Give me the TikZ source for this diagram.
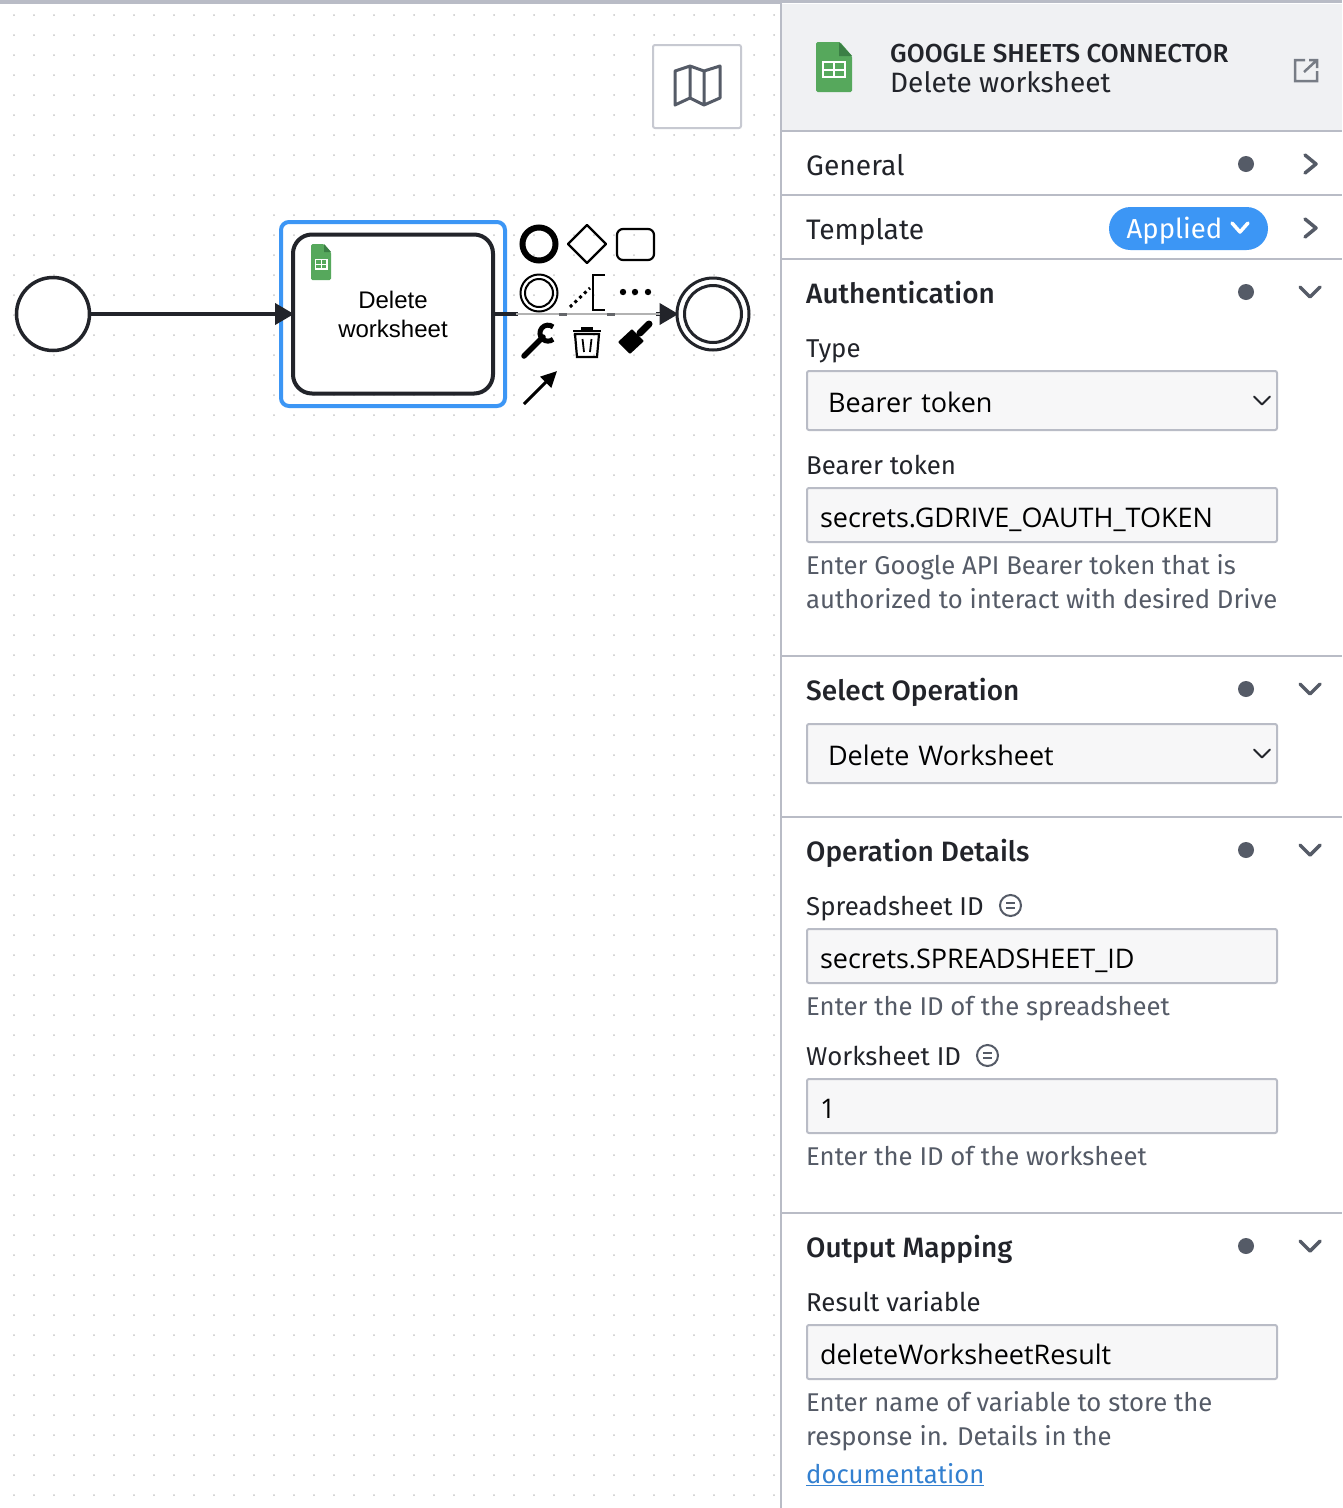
\documentclass[tikz,border=0pt]{standalone}
\usepackage{fontspec}
\setmainfont{Fira Sans}
\newfontfamily\diagfont{Liberation Sans}
\newfontfamily\fieldfont{Open Sans}
\newfontfamily\medfont{Fira Sans Medium}
\usetikzlibrary{arrows.meta, positioning, shapes.geometric}
\definecolor{inkc}{HTML}{22242A}
\definecolor{greyc}{HTML}{555B67}
\definecolor{rulec}{HTML}{B9BCC6}
\definecolor{bluec}{HTML}{3C96F5}
\definecolor{sheetc}{HTML}{56A85C}
\definecolor{sheetd}{HTML}{3B7F45}
\definecolor{headc}{HTML}{F0F1F3}
\definecolor{fieldc}{HTML}{F7F7F8}

\begin{document}
\begin{tikzpicture}[x=1pt, y=-1pt,
		evnode/.style={draw=inkc, circle, line width=3.5pt, fill=white, inner sep=0pt},
		tasknode/.style={draw=inkc, rounded corners=19pt, line width=4pt, fill=white, align=center,
			minimum width=200pt, minimum height=159pt, inner sep=0pt, font=\diagfont\fontsize{24}{29}\selectfont},
		flow/.style={draw=inkc, line width=4pt, -{Triangle[length=19pt, width=21pt]}, shorten >=-3pt},
		head/.style={anchor=base west, inner sep=0pt, text=inkc, font=\medfont\fontsize{28}{34}\selectfont},
		lab/.style={anchor=base west, inner sep=0pt, text=inkc, font=\fontsize{25.8}{32}\selectfont},
		hint/.style={anchor=base west, inner sep=0pt, text=greyc, font=\fontsize{25.7}{32}\selectfont},
		field/.style={draw=rulec, line width=2pt, rounded corners=2pt, fill=fieldc, anchor=north west,
			minimum width=470pt, text width=444pt, inner xsep=13pt, inner ysep=0pt, align=left, text=black,
			text height=28pt, text depth=4pt, font=\fieldfont\fontsize{27}{34}\selectfont},
		pick/.style={field, text width=428pt, inner xsep=21pt, minimum height=59pt},
		chev/.style={draw=greyc, line width=3.5pt, line cap=round, line join=round},
		pad/.style={draw=black, line width=2.2pt},
		feel/.style={draw=greyc, circle, line width=2pt, minimum size=21pt, inner sep=0pt}
		]
		\useasboundingbox (0,0) rectangle (1342,1508);
		\fill[white] (0,0) rectangle (1342,1508);
		% canvas dots
		\foreach \i in {0,...,38}
		\foreach \j in {0,...,74}
		\fill[black!22] (14+20*\i,15+20*\j) circle (1pt);
		\fill[rulec] (0,0) rectangle (1342,3.5);
		
		% diagram
		\draw[bluec, line width=4pt, rounded corners=8pt] (281,222) rectangle (505,406);
		\node[evnode, minimum size=73pt] (startev) at (53,314) {};
		\node[tasknode] (task) at (393,314) {Delete\\[0pt]worksheet};
		\node[evnode, minimum size=72pt, line width=3pt] (endev) at (713,314) {};
		\node[circle, draw=inkc, line width=3pt, minimum size=57pt, inner sep=0pt] (endin) at (endev) {};
		\draw[flow] (startev) -- (task);
		\draw[flow] (task) -- (endev);
		% faded part of the flow under the pad
		\draw[white, line width=5pt] (518,314) -- (656,314);
		\draw[black!30, line width=1.5pt] (516,314) -- (660,314);
		\foreach \x in {563,611}
		\draw[inkc!70, line width=3pt] (\x-4,314) -- (\x+4,314);
		
		% sheet icon in the task
		\fill[sheetc, rounded corners=1.5pt] (311,244) -- (324,244) -- (331,252) -- (331,280) -- (311,280) -- cycle;
		\fill[sheetd] (324,244) -- (331,252) -- (324,252) -- cycle;
		\draw[white, line width=1.2pt] (315.5,259.5) rectangle (327,269) (315.5,264.2) -- (327,264.2) (321.2,259.5) -- (321.2,269);
		
		% context pad
		\draw[black, line width=6pt] (539,244) circle (16.5pt);
		\draw[pad, line join=round] (587,225) -- (606,244) -- (587,263) -- (568,244) -- cycle;
		\draw[pad, rounded corners=6pt] (617,229) rectangle (654,260);
		\draw[black, line width=2pt] (539,293) circle (18.5pt);
		\draw[black, line width=2pt] (539,293) circle (14pt);
		\draw[black, line width=3pt, dash pattern=on 3pt off 3.5pt] (570,307) -- (590,288);
		\draw[black, line width=2.8pt] (605,275) -- (593,275) -- (593,310) -- (605,310);
		\foreach \x in {623,635,648}
		\fill[black] (\x,292) circle (3.2pt);
		\draw[black, line width=5.5pt, line cap=round] (524,356) -- (543,337);
		\draw[black, line width=5pt] (553.1,327) arc (50:310:8pt);
		\draw[black, line width=2.2pt] (575,334) -- (577,357) -- (597,357) -- (599,334) -- cycle;
		\draw[black, line width=2.2pt] (573,331) -- (601,331);
		\fill[black] (581,327) rectangle (593,330);
		\draw[black, line width=1.8pt] (582.5,339) -- (584,352) (591.5,339) -- (590,352);
		\fill[black, rounded corners=1pt] (618,342) -- (632,329) -- (644,341) -- (630,354) -- cycle;
		\draw[black, line width=7pt, line cap=round] (640,333) -- (649,324);
		\draw[black, line width=3pt, -{Triangle[length=16pt, width=15pt]}] (524,404) -- (557,371);
		
		% map button
		\draw[rulec!80, line width=2pt, fill=white, rounded corners=2pt] (653,45) rectangle (741,128);
		\draw[greyc, line width=3pt, line join=round] (675,71) -- (690,66) -- (704,71) -- (720,66) -- (720,98) -- (704,105) -- (690,98) -- (675,105) -- cycle (690,66) -- (690,98) (704,71) -- (704,105);
		
		% side panel
		\fill[white] (781,3) rectangle (1342,1508);
		\fill[headc] (781,3.5) rectangle (1342,131);
		\draw[rulec, line width=2pt] (781,3) -- (781,1508);
		\foreach \y in {131,195,259,656,817,1213}
		\draw[rulec, line width=2pt] (781,\y) -- (1342,\y);
		\fill[sheetc, rounded corners=1.5pt] (816,42) -- (840,42) -- (852,56) -- (852,92) -- (816,92) -- cycle;
		\fill[sheetd] (839,42) -- (852,56) -- (839,56) -- cycle;
		\draw[white, line width=2pt] (823,62) rectangle (845,77) (823,69.5) -- (845,69.5) (834,62) -- (834,77);
		\node[anchor=base west, inner sep=0pt, text=inkc, font=\medfont\fontsize{26}{30}\selectfont] (ctitle) at (890,62) {GOOGLE SHEETS CONNECTOR};
		\node[lab, font=\fontsize{28}{34}\selectfont] (csub) at (890,92) {Delete worksheet};
		\draw[greyc!80, line width=2.5pt] (1305,60) -- (1295,60) -- (1295,81) -- (1317,81) -- (1317,71) (1304,72) -- (1317,60) (1309,60) -- (1317,60) -- (1317,68);
		
		% section heads
		\node[lab, font=\fontsize{28.2}{34}\selectfont] (general) at (806,175) {General};
		\node[lab, font=\fontsize{28.2}{34}\selectfont] (template) at (806,239) {Template};
		\foreach \n/\y/\t in {auth/303/Authentication, oper/700/Select Operation, opdet/861/Operation Details, output/1257/Output Mapping}
		\node[head] (\n) at (806,\y) {\t};
		\foreach \y in {164,292,689,850,1246}
		\fill[greyc] (1246,\y) circle (8pt);
		\foreach \y in {164,228}
		\draw[chev] (1305,\y-9) -- (1316,\y) -- (1305,\y+9);
		\foreach \y in {292,689,850,1246}
		\draw[chev] (1300,\y-5) -- (1310,\y+5) -- (1320,\y-5);
		
		\node[fill=bluec, rounded corners=21.5pt, minimum width=159pt, minimum height=43pt, inner sep=0pt] (applied) at (1188.5,228.5) {};
		\node[anchor=base west, inner sep=0pt, text=white, font=\fontsize{27.5}{34}\selectfont] (appliedt) at (1126.5,238) {Applied};
		\draw[white, line width=3.5pt, line cap=round, line join=round] (1232,223) -- (1240,232) -- (1248,223);
		
		% labels
		\foreach \n/\y/\t in {ltype/357/Type, lbearer/474/Bearer token, lresult/1311/Result variable, lsheet/915/Spreadsheet ID, lwork/1065/Worksheet ID}
		\node[lab] (\n) at (806,\y) {\t};
		\foreach \n/\y/\t in {h1/574/Enter Google API Bearer token that is, h2/608/authorized to interact with desired Drive, h3/1015/Enter the ID of the spreadsheet, h4/1165/Enter the ID of the worksheet, h5/1411/Enter name of variable to store the, h6/1445/response in. Details in the}
		\node[hint] (\n) at (806,\y) {\t};
		\node[anchor=base west, inner sep=0pt, text=bluec!85!black, font=\fontsize{25.7}{32}\selectfont] (doc) at (806,1483) {\underline{documentation}};
		\node[feel] (feelsheet) at (1010.5,905.5) {};
		\node[feel] (feelwork) at (987.5,1055.5) {};
		\foreach \f in {feelsheet,feelwork}
		\draw[greyc, line width=2pt] ([xshift=-4.5pt, yshift=2.5pt]\f.center) -- ++(9,0) ([xshift=-4.5pt, yshift=-2.5pt]\f.center) -- ++(9,0);
		
		% fields
		\node[pick] (ftype) at (806,370) {Bearer token};
		\node[pick] (fop) at (806,723) {Delete Worksheet};
		\foreach \n/\y/\t in {fbear/487/secrets.GDRIVE\_OAUTH\_TOKEN, fsheet/928/secrets.SPREADSHEET\_ID, fwork/1078/1, fres/1324/deleteWorksheetResult}
		\node[field, minimum height=54pt] (\n) at (806,\y) {\t};
		\foreach \f in {ftype,fop}
		\draw[inkc, line width=2pt, line cap=round, line join=round] ([xshift=-24pt, yshift=4pt]\f.east) -- ++(8,8) -- ++(8,-8);
	\end{tikzpicture}
\end{document}
